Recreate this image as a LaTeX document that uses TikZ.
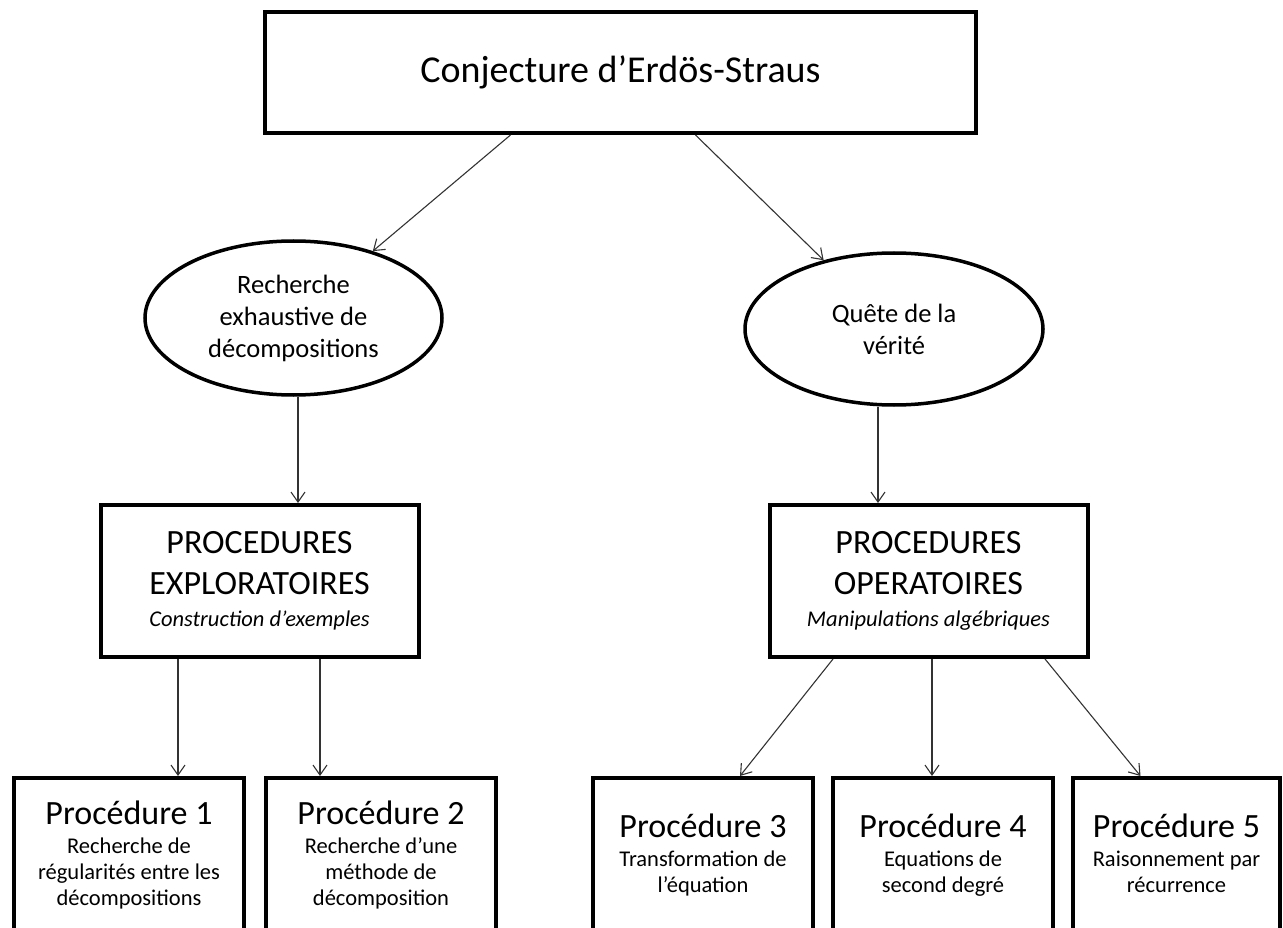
\documentclass[tikz,border=0pt]{standalone}
\usepackage{fontspec}
\setmainfont{Carlito}
\usetikzlibrary{arrows.meta,shapes.geometric}

\begin{document}
\begin{tikzpicture}[x=1pt,y=-1pt,
		boite/.style={rectangle,draw,line width=4pt,align=center,inner sep=0pt},
		bulle/.style={ellipse,draw,line width=3.5pt,align=center,inner sep=0pt,font=\fontsize{26.5}{32}\selectfont},
		famille/.style={boite,minimum width=318pt,minimum height=152pt,font=\fontsize{34}{41}\selectfont},
		proc/.style={boite,minimum height=154pt,font=\fontsize{22.5}{26}\selectfont},
		fleche/.style={-{Straight Barb[length=10pt,width=14pt]},line width=1.1pt,draw=black!80}]
	\clip (0,0) rectangle (1283,928);
	\path
	(620.5,72.5) node(titre) [boite,minimum width=711pt,minimum height=121pt,font=\fontsize{38}{46}\selectfont] {Conjecture d’Erdös-Straus}
	(293.5,318) node(rech) [bulle,minimum width=297pt,minimum height=154pt] {Recherche\\exhaustive de\\décompositions}
	(894,329) node(quete) [bulle,minimum width=298pt,minimum height=152pt] {Quête de la\\vérité}
	(259.5,581) node(explo) [famille] {PROCEDURES\\EXPLORATOIRES\\[-9pt]{\fontsize{22.5}{27}\selectfont\itshape Construction d’exemples}}
	(928.5,581) node(opera) [famille] {PROCEDURES\\OPERATOIRES\\[-9pt]{\fontsize{22.5}{27}\selectfont\itshape Manipulations algébriques}};
	% les cinq procedures
	\path
	(129,855) node(p1) [proc,minimum width=230pt] {{\fontsize{34}{41}\selectfont Procédure 1}\\[3pt]Recherche de\\régularités entre les\\décompositions}
	(381,855) node(p2) [proc,minimum width=230pt] {{\fontsize{34}{41}\selectfont Procédure 2}\\[3pt]Recherche d’une\\méthode de\\décomposition}
	(703,855) node(p3) [proc,minimum width=220pt] {{\fontsize{34}{41}\selectfont Procédure 3}\\[3pt]Transformation de\\l’équation}
	(943,855) node(p4) [proc,minimum width=220pt] {{\fontsize{34}{41}\selectfont Procédure 4}\\[3pt]Equations de\\second degré}
	(1176.5,855) node(p5) [proc,minimum width=207pt] {{\fontsize{34}{41}\selectfont Procédure 5}\\[3pt]Raisonnement par\\récurrence\vphantom{g}};
	\draw
	([xshift=-110pt]titre.south) edge[fleche] (rech)
	([xshift=75pt]titre.south) edge[fleche] (quete)
	([xshift=4.5pt]rech.south) edge[fleche] ([xshift=4.5pt]rech.south |- explo.north)
	([xshift=-16pt]quete.south) edge[fleche] ([xshift=-16pt]quete.south |- opera.north)
	([xshift=-81.5pt]explo.south) edge[fleche] ([xshift=-81.5pt]explo.south |- p1.north)
	([xshift=60.5pt]explo.south) edge[fleche] ([xshift=60.5pt]explo.south |- p2.north)
	([xshift=-95.5pt]opera.south) edge[fleche] ([xshift=37pt]p3.north)
	([xshift=3.5pt]opera.south) edge[fleche] ([xshift=3.5pt]opera.south |- p4.north)
	([xshift=116.5pt]opera.south) edge[fleche] ([xshift=-36pt]p5.north);
\end{tikzpicture}
\end{document}
